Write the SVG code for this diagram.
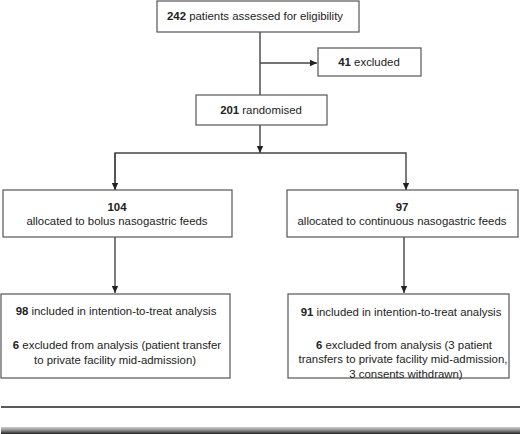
<svg xmlns="http://www.w3.org/2000/svg" width="520" height="434" viewBox="0 0 520 434">
<defs>
<style>
.box{fill:#fff;stroke:#555;stroke-width:1.2}
.ln{fill:none;stroke:#444;stroke-width:1.4}
text{font-family:"Liberation Sans",Arial,sans-serif;font-size:11.4px;fill:#222;text-anchor:middle}
.b{font-weight:bold}
</style>
<marker id="ah" markerWidth="8" markerHeight="8" refX="7" refY="4" orient="auto" markerUnits="userSpaceOnUse">
<path d="M0,0.8 L7,4 L0,7.2 z" fill="#222"/>
</marker>
<linearGradient id="bar" x1="0" y1="0" x2="0" y2="1">
<stop offset="0" stop-color="#d0d0d0"/>
<stop offset="0.5" stop-color="#888"/>
<stop offset="1" stop-color="#222"/>
</linearGradient>
</defs>
<g id="connectors">
<line class="ln" x1="260" y1="32" x2="260" y2="95"/>
<line class="ln" x1="260" y1="63" x2="317" y2="63" marker-end="url(#ah)"/>
<line class="ln" x1="260" y1="125" x2="260" y2="153" marker-end="url(#ah)"/>
<polyline class="ln" points="115,190 115,153 406,153 406,190" marker-end="url(#ah)"/>
<line class="ln" x1="115" y1="153" x2="115" y2="190" marker-end="url(#ah)"/>
<line class="ln" x1="115" y1="237" x2="115" y2="293" marker-end="url(#ah)"/>
<line class="ln" x1="404" y1="237" x2="404" y2="293" marker-end="url(#ah)"/>
</g>
<g id="assessed">
<rect class="box" x="157" y="1" width="202" height="31"/>
<text x="255" y="20"><tspan class="b">242</tspan> patients assessed for eligibility</text>
</g>
<g id="excluded">
<rect class="box" x="318" y="48" width="103" height="28"/>
<text x="369" y="66"><tspan class="b">41</tspan> excluded</text>
</g>
<g id="randomised">
<rect class="box" x="196" y="95" width="131" height="30"/>
<text x="261" y="114"><tspan class="b">201</tspan> randomised</text>
</g>
<g id="bolus">
<rect class="box" x="3" y="190" width="229" height="47"/>
<text x="117" y="211" class="b">104</text>
<text x="117" y="225">allocated to bolus nasogastric feeds</text>
</g>
<g id="continuous">
<rect class="box" x="287" y="190" width="231" height="47"/>
<text x="402" y="211" class="b">97</text>
<text x="402" y="225">allocated to continuous nasogastric feeds</text>
</g>
<g id="bolus-analysis">
<rect class="box" x="1" y="294" width="229" height="84"/>
<text x="116" y="315"><tspan class="b">98</tspan> included in intention-to-treat analysis</text>
<text x="117" y="349"><tspan class="b">6</tspan> excluded from analysis (patient transfer</text>
<text x="115" y="364">to private facility mid-admission)</text>
</g>
<g id="continuous-analysis">
<rect class="box" x="288" y="294" width="221" height="84"/>
<text x="401" y="316"><tspan class="b">91</tspan> included in intention-to-treat analysis</text>
<text x="404" y="349"><tspan class="b">6</tspan> excluded from analysis (3 patient</text>
<text x="403" y="363">transfers to private facility mid-admission,</text>
<text x="406" y="378">3 consents withdrawn)</text>
</g>
<line x1="1" y1="407" x2="520" y2="407" stroke="#222" stroke-width="1.6"/>
<rect x="1" y="427" width="519" height="7" fill="url(#bar)"/>
</svg>
